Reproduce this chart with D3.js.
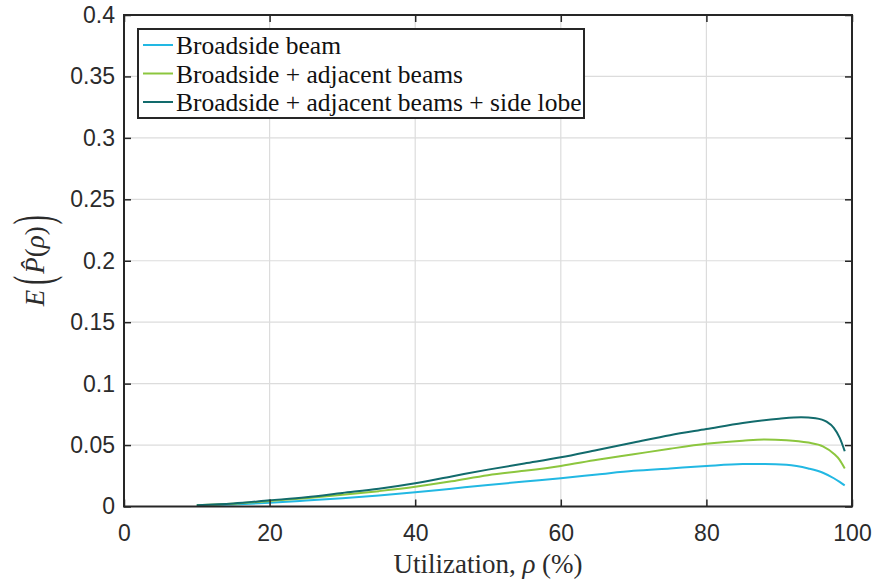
<!DOCTYPE html>
<html>
<head>
<meta charset="utf-8">
<script src="https://cdn.jsdelivr.net/npm/d3@7"></script>
<style>
  body { margin: 0; background: #fff; }
  svg { display: block; }
</style>
</head>
<body>
<div id="chart"></div>
<script>
// utilization (%) sample points and values
const xBroad = [10, 15, 20, 25, 30, 35, 40, 45, 50, 55, 60, 65, 70, 75, 80, 85, 88, 91, 94, 96, 97.5, 98.3, 99]
const yBroad = [0.0008, 0.0017, 0.003, 0.0048, 0.0068, 0.009, 0.0115, 0.0145, 0.0175, 0.0203, 0.023, 0.026, 0.029, 0.031, 0.033, 0.0345, 0.0346, 0.034, 0.031, 0.0275, 0.023, 0.020, 0.0172]

const xAdj = [10, 15, 20, 25, 30, 35, 40, 45, 50, 55, 60, 65, 70, 75, 80, 85, 88, 91, 94, 96, 97.5, 98.3, 99]
const yAdj = [0.001, 0.0022, 0.0045, 0.0068, 0.0095, 0.0125, 0.016, 0.0205, 0.0255, 0.029, 0.033, 0.038, 0.0425, 0.047, 0.051, 0.0535, 0.0545, 0.054, 0.052, 0.049, 0.043, 0.038, 0.031]

const xLobe = [10, 15, 20, 25, 30, 35, 40, 45, 50, 55, 60, 65, 70, 75, 80, 85, 90, 93, 95, 96.5, 97.5, 98.3, 99]
const yLobe = [0.001, 0.0025, 0.005, 0.0075, 0.011, 0.0145, 0.019, 0.0245, 0.030, 0.035, 0.040, 0.046, 0.052, 0.058, 0.063, 0.068, 0.0715, 0.0727, 0.0718, 0.069, 0.064, 0.056, 0.045]

const seriesNames = ['Broadside beam', 'Broadside + adjacent beams', 'Broadside + adjacent beams + side lobe']
const seriesColors = ['#22b8e3', '#8cc63e', '#126b6c']

const xTicks = [0, 20, 40, 60, 80, 100]
const yTicks = [0, 0.05, 0.1, 0.15, 0.2, 0.25, 0.3, 0.35, 0.4]

const dimensions = {
  width: 874,
  height: 581,
  margin: { top: 15, right: 22, bottom: 74.5, left: 124 }
}

const series = [
  { name: seriesNames[0], color: seriesColors[0], values: xBroad.map((x, i) => ({ x, y: yBroad[i] })) },
  { name: seriesNames[1], color: seriesColors[1], values: xAdj.map((x, i) => ({ x, y: yAdj[i] })) },
  { name: seriesNames[2], color: seriesColors[2], values: xLobe.map((x, i) => ({ x, y: yLobe[i] })) }
]

const innerW = dimensions.width - dimensions.margin.left - dimensions.margin.right
const innerH = dimensions.height - dimensions.margin.top - dimensions.margin.bottom

const wrapper = d3.select('#chart').append('svg')
  .attr('width', dimensions.width)
  .attr('height', dimensions.height)

const bounds = wrapper.append('g')
  .attr('transform', `translate(${dimensions.margin.left}, ${dimensions.margin.top})`)

const xScale = d3.scaleLinear().domain([0, 100]).range([0, innerW])
const yScale = d3.scaleLinear().domain([0, 0.4]).range([innerH, 0])

// grid
bounds.append('g')
  .selectAll('line')
  .data(xTicks.slice(1, -1))
  .join('line')
  .attr('x1', d => xScale(d)).attr('x2', d => xScale(d))
  .attr('y1', 0).attr('y2', innerH)
  .attr('stroke', '#dcdcdc').attr('stroke-width', 1.2)
bounds.append('g')
  .selectAll('line')
  .data(yTicks.slice(1, -1))
  .join('line')
  .attr('y1', d => yScale(d)).attr('y2', d => yScale(d))
  .attr('x1', 0).attr('x2', innerW)
  .attr('stroke', '#dcdcdc').attr('stroke-width', 1.2)

// lines
const line = d3.line()
  .x(d => xScale(d.x))
  .y(d => yScale(d.y))
  .curve(d3.curveMonotoneX)

bounds.append('g')
  .selectAll('path')
  .data(series)
  .join('path')
  .attr('fill', 'none')
  .attr('stroke', d => d.color)
  .attr('stroke-width', 2)
  .attr('stroke-linejoin', 'round')
  .attr('d', d => line(d.values))

// axes (ticks inward, box all round)
const tickLen = 7
const fmt = d => d === 0 ? '0' : String(d)
const axisStyle = g => {
  g.select('.domain').remove()
  g.selectAll('.tick line').attr('stroke', '#262626').attr('stroke-width', 1.5)
  g.selectAll('.tick text')
    .attr('fill', '#2b2b2b')
    .style('font-family', '"Liberation Sans", Arial, sans-serif')
    .style('font-size', '23px')
}

bounds.append('g')
  .attr('transform', `translate(0, ${innerH})`)
  .call(d3.axisBottom(xScale).tickValues(xTicks).tickSize(-tickLen).tickPadding(18).tickFormat(fmt))
  .call(axisStyle)
bounds.append('g')
  .call(d3.axisTop(xScale).tickValues(xTicks).tickSize(-tickLen).tickFormat(''))
  .call(axisStyle)
bounds.append('g')
  .call(d3.axisLeft(yScale).tickValues(yTicks).tickSize(-tickLen).tickPadding(9).tickFormat(fmt))
  .call(axisStyle)
bounds.append('g')
  .attr('transform', `translate(${innerW}, 0)`)
  .call(d3.axisRight(yScale).tickValues(yTicks).tickSize(-tickLen).tickFormat(''))
  .call(axisStyle)

bounds.append('rect')
  .attr('width', innerW).attr('height', innerH)
  .attr('fill', 'none').attr('stroke', '#262626').attr('stroke-width', 2)

// legend
const legend = bounds.append('g').attr('transform', 'translate(14, 14)')
legend.append('rect')
  .attr('width', 446).attr('height', 89)
  .attr('fill', '#fff').attr('stroke', '#262626').attr('stroke-width', 2)
const legendRows = legend.selectAll('g.row')
  .data(series)
  .join('g')
  .attr('class', 'row')
  .attr('transform', (d, i) => `translate(0, ${16 + i * 28.5})`)
legendRows.append('line')
  .attr('x1', 5).attr('x2', 35)
  .attr('stroke', d => d.color).attr('stroke-width', 2)
legendRows.append('text')
  .attr('x', 38).attr('y', 9)
  .style('font-family', '"Liberation Serif", "Times New Roman", serif')
  .style('font-size', '25.5px')
  .attr('fill', '#111')
  .text(d => d.name)

// axis labels
wrapper.append('text')
  .attr('x', dimensions.margin.left + innerW / 2)
  .attr('y', 573)
  .attr('text-anchor', 'middle')
  .style('font-family', '"Liberation Serif", "Times New Roman", serif')
  .style('font-size', '27px')
  .attr('fill', '#2b2b2b')
  .call(t => {
    t.append('tspan').text('Utilization, ')
    t.append('tspan').style('font-style', 'italic').text('ρ')
    t.append('tspan').text(' (%)')
  })

// y label: E( P^(rho) ) with tall thin delimiters, laid out piece by piece
const yPieces = [
  { t: 'E', italic: true },
  { gap: 5 },
  { t: '(', big: true },
  { gap: 2 },
  { t: 'P\u0302', italic: true },
  { t: '(' },
  { t: 'ρ', italic: true },
  { t: ')' },
  { gap: 2 },
  { t: ')', big: true }
]
const yLabel = wrapper.append('g')
  .attr('transform', `translate(44, ${dimensions.margin.top + innerH / 2}) rotate(-90)`)
  .style('font-family', '"Liberation Serif", "Times New Roman", serif')
  .style('font-size', '27px')
  .attr('fill', '#2b2b2b')
let cursor = 0
const placed = []
yPieces.forEach(p => {
  if (p.gap) { cursor += p.gap; return }
  const g = yLabel.append('g')
  const txt = g.append('text')
    .style('font-style', p.italic ? 'italic' : 'normal')
    .text(p.t)
  const w = txt.node().getComputedTextLength()
  if (p.big) {
    // stretch around the glyph centre so the stroke stays thin
    txt.attr('y', 0.245 * 27)
    g.attr('transform', `translate(${cursor}, -6.5) scale(1, 2.05)`)
  } else {
    g.attr('transform', `translate(${cursor}, 0)`)
  }
  placed.push(g)
  cursor += w
})
yLabel.selectAll(':scope > g').each(function () {
  const tr = d3.select(this).attr('transform')
  d3.select(this).attr('transform', `translate(${-cursor / 2}, 0) ` + tr)
})
</script>
</body>
</html>
